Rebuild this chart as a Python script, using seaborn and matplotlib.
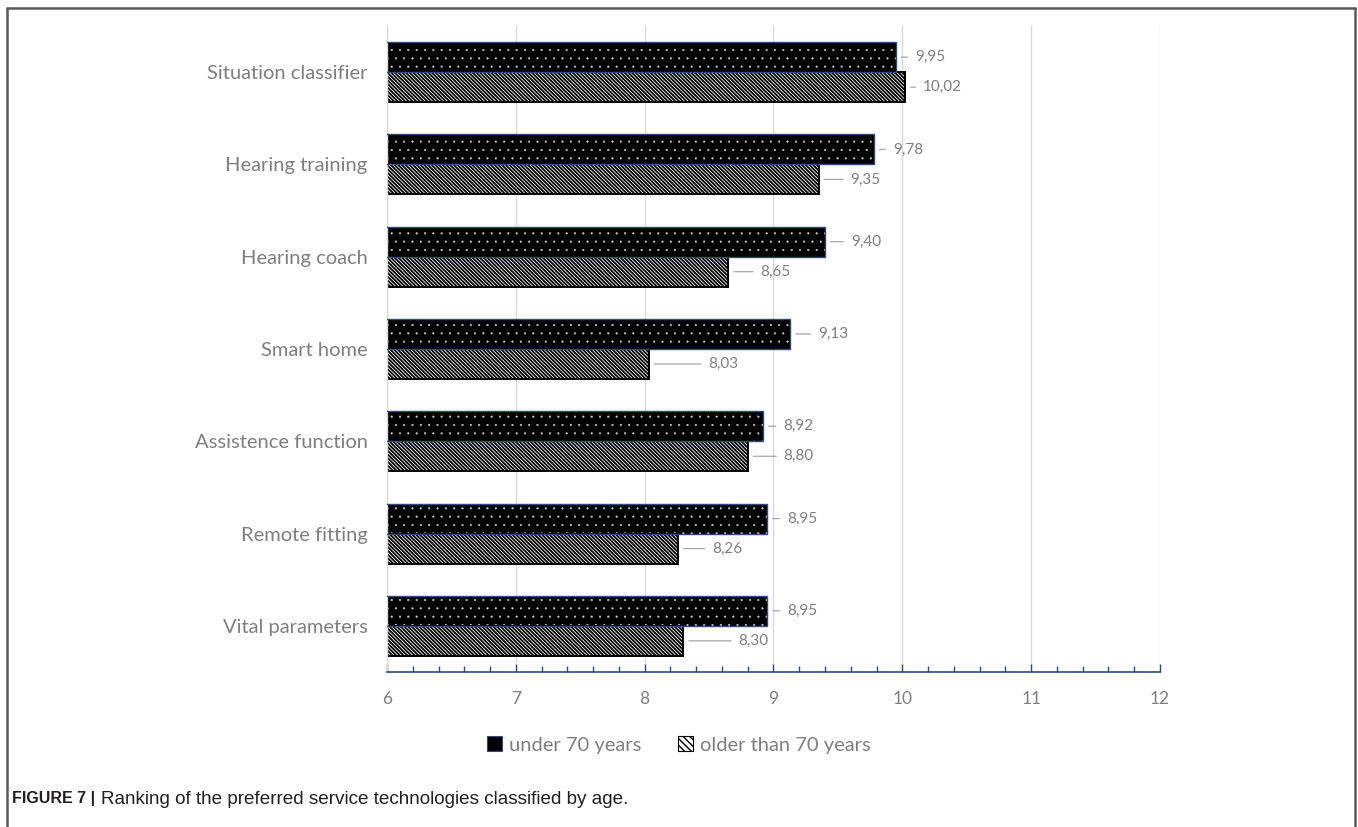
import matplotlib
matplotlib.use("Agg")
import matplotlib.pyplot as plt
from matplotlib.patches import Patch, Rectangle
from matplotlib.lines import Line2D
from matplotlib.ticker import MultipleLocator
import seaborn as sns
import pandas as pd

# --- data -------------------------------------------------------------
categories = ["Situation classifier", "Hearing training", "Hearing coach",
              "Smart home", "Assistence function", "Remote fitting",
              "Vital parameters"]
under_70 = [9.95, 9.78, 9.40, 9.13, 8.92, 8.95, 8.95]
over_70 = [10.02, 9.35, 8.65, 8.03, 8.80, 8.26, 8.30]
groups = ["under 70 years", "older than 70 years"]
x_ticks = [6, 7, 8, 9, 10, 11, 12]

# horizontal offsets (pixels) of the value labels from the bar ends
offsets_under = [19, 19, 26, 28, 20, 20, 20]
offsets_over = [18, 32, 32, 60, 36, 34, 55]

df = pd.DataFrame({
    "category": categories * 2,
    "value": under_70 + over_70,
    "group": [groups[0]] * len(categories) + [groups[1]] * len(categories),
})

sns.set_theme(style="white")
plt.rcParams["font.family"] = ["Lato", "DejaVu Sans"]
plt.rcParams["hatch.linewidth"] = 1.0

GREY = "#7f7f7f"
NAVY = "#2f4b7c"

fig = plt.figure(figsize=(13.58, 8.27), dpi=100)
ax = fig.add_axes([387 / 1358, 1 - 672 / 827, (1160 - 387) / 1358, (672 - 26) / 827])

sns.barplot(data=df, y="category", x="value", hue="group", orient="h",
            order=categories, hue_order=groups, width=0.65, dodge=True,
            palette=["black", "white"], legend=False, ax=ax, saturation=1)

ax.set_xlim(6, 12)
ax.set_ylim(len(categories) - 0.5, -0.5)


def set_hatch_lw(patch, lw):
    if hasattr(patch, "set_hatch_linewidth"):
        patch.set_hatch_linewidth(lw)
    else:
        patch._hatch_linewidth = lw


# dotted black bars with a thin blue outline
for p in ax.containers[0]:
    p.set_facecolor("black")
    p.set_edgecolor("#d0d0d0")
    p.set_hatch("..")
    p.set_linewidth(0)
    set_hatch_lw(p, 0.3)
    ax.add_patch(Rectangle((p.get_x(), p.get_y()), p.get_width(), p.get_height(),
                           facecolor="none", edgecolor=NAVY, linewidth=1.0, zorder=3))

# densely hatched bars
for p in ax.containers[1]:
    p.set_facecolor("white")
    p.set_edgecolor("black")
    p.set_hatch("\\" * 9)
    p.set_linewidth(1.4)
    set_hatch_lw(p, 1.3)

# value labels with short leader lines
for cont, vals, offs in [(ax.containers[0], under_70, offsets_under),
                         (ax.containers[1], over_70, offsets_over)]:
    for p, v, off in zip(cont, vals, offs):
        yc = p.get_y() + p.get_height() / 2
        ax.annotate(f"{v:.2f}".replace(".", ","), xy=(v, yc),
                    xytext=(off, 0), textcoords="offset pixels",
                    ha="left", va="center", fontsize=11, color=GREY,
                    arrowprops=dict(arrowstyle="-", color="#a6a6a6", lw=0.9,
                                    shrinkA=3, shrinkB=4))

# axes styling
ax.set_xlabel("")
ax.set_ylabel("")
ax.set_xticks(x_ticks)
ax.set_xticklabels([str(t) for t in x_ticks])
ax.xaxis.set_minor_locator(MultipleLocator(0.2))
ax.grid(axis="x", which="major", color="#d9d9d9", linewidth=1.0)
ax.set_axisbelow(True)
for s in ["top", "right"]:
    ax.spines[s].set_visible(False)
ax.spines["left"].set_color("#d9d9d9")
ax.spines["left"].set_linewidth(1.0)
ax.spines["bottom"].set_color(NAVY)
ax.spines["bottom"].set_linewidth(1.2)
ax.tick_params(axis="x", which="major", direction="in", length=6, width=1.0,
               color=NAVY, labelsize=12.5, labelcolor=GREY, pad=14, bottom=True)
ax.tick_params(axis="x", which="minor", direction="in", length=4, width=1.0,
               color=NAVY, bottom=True)
ax.tick_params(axis="y", length=0, labelsize=14.5, labelcolor=GREY, pad=14)

# legend below the plot
h_under = Patch(facecolor="black", edgecolor=NAVY, linewidth=0.8)
h_over = Patch(facecolor="white", edgecolor="black", hatch="\\" * 5, linewidth=0.8)
fig.legend([h_under, h_over], groups, loc="center", bbox_to_anchor=(0.5, 1 - 745 / 827),
           ncol=2, frameon=False, fontsize=14.5, labelcolor=GREY,
           handlelength=0.75, handleheight=0.75, handletextpad=0.35,
           columnspacing=1.8)

# caption
cap_font = ["Liberation Sans", "DejaVu Sans"]
cap_y = 1 - 799 / 827
t1 = fig.text(12 / 1358, cap_y, "FIGURE 7 |", fontsize=11.5, fontweight="bold",
              family=cap_font, color="#231f20", va="center")
fig.canvas.draw()
bb = t1.get_window_extent(fig.canvas.get_renderer())
fig.text((bb.x1 + 6) / 1358, cap_y,
         "Ranking of the preferred service technologies classified by age.",
         fontsize=13.6, family=cap_font, color="#231f20", va="center")

# outer frame (open at the bottom)
frame_kw = dict(color="#5a5a5a", linewidth=1.8, transform=fig.transFigure)
fig.add_artist(Line2D([7 / 1358, 1355 / 1358], [1 - 8 / 827, 1 - 8 / 827], **frame_kw))
fig.add_artist(Line2D([7 / 1358, 7 / 1358], [1 - 8 / 827, 0], **frame_kw))
fig.add_artist(Line2D([1355 / 1358, 1355 / 1358], [1 - 8 / 827, 0], **frame_kw))

fig.savefig("out.png", dpi=100)
